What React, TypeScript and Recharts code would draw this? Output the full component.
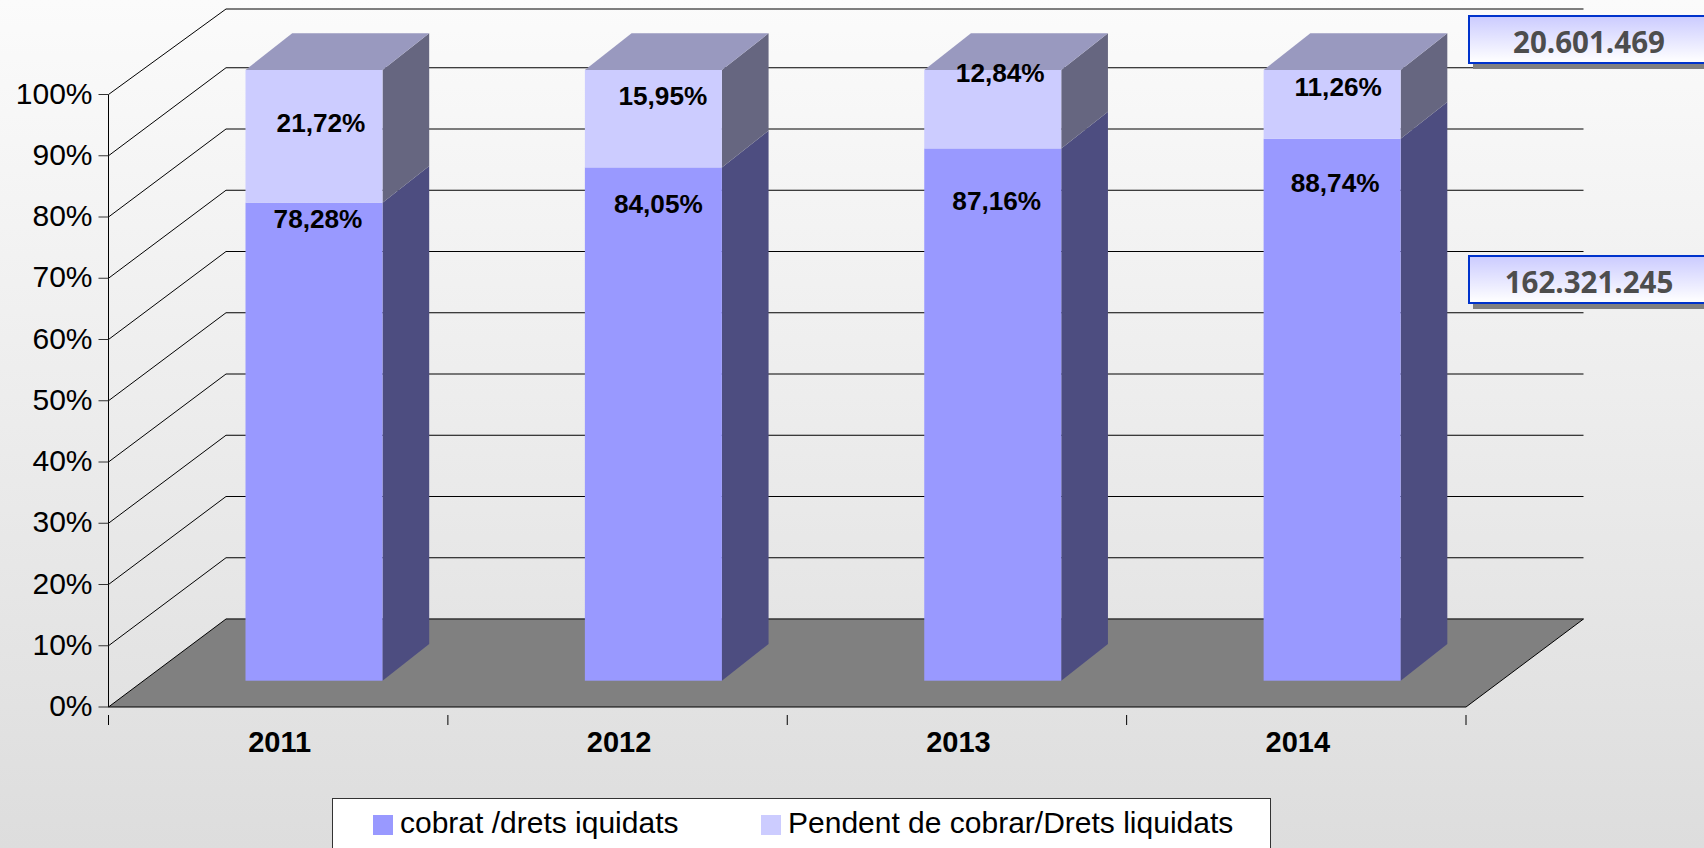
import React from "react";
import { BarChart, Bar, XAxis, YAxis, CartesianGrid, Legend, LabelList } from "recharts";

const categories = ["2011", "2012", "2013", "2014"];
const cobrat = [78.28, 84.05, 87.16, 88.74];
const pendent = [21.72, 15.95, 12.84, 11.26];
const yTicks = [0, 10, 20, 30, 40, 50, 60, 70, 80, 90, 100];
const seriesNames = ["cobrat /drets iquidats", "Pendent de cobrar/Drets liquidats"];
const calloutTexts = ["20.601.469", "162.321.245"];

const rows = categories.map((year, i) => ({ year, cobrat: cobrat[i], pendent: pendent[i] }));

const W = 1704;
const H = 848;
const MARGIN = { top: 94.5, right: 238, bottom: 81, left: 8.5 };
const Y_AXIS_W = 100;
const X_AXIS_H = 60;
const WALL_DX = 117.5;
const WALL_DY = 88;
const WALL_TOP = 9;
const BAR_DX = 36;
const SIDE_DX = 46.7;
const SIDE_DY = 36.7;
const FONT = "'Liberation Sans', Arial, sans-serif";

const barY = (y: number) => y - 24.5 - (y - MARGIN.top) * 0.00294;

const lowerNudge = [{ x: 4, y: 16 }, { x: 5, y: 37 }, { x: 4, y: 53 }, { x: 3, y: 44 }];
const upperNudge = [{ x: 7, y: 53 }, { x: 9.5, y: 25.5 }, { x: 7.5, y: 3 }, { x: 6, y: 17 }];

function makeBox(front: string, side: string, top?: string) {
  return function Box(props: any) {
    const { x, y, width, height } = props;
    const l = x + BAR_DX;
    const r = l + width;
    const t = barY(y);
    const b = barY(y + height);
    return (
      <g>
        <polygon points={`${r},${t} ${r + SIDE_DX},${t - SIDE_DY} ${r + SIDE_DX},${b - SIDE_DY} ${r},${b}`} fill={side} />
        {top && <polygon points={`${l},${t} ${l + SIDE_DX},${t - SIDE_DY} ${r + SIDE_DX},${t - SIDE_DY} ${r},${t}`} fill={top} />}
        <rect x={l} y={t} width={width} height={b - t} fill={front} />
      </g>
    );
  };
}

function makeLabel(nudge: { x: number; y: number }[]) {
  return function BoxLabel(props: any) {
    const { x, y, width, index, value } = props;
    return (
      <text
        x={x + BAR_DX + width / 2 + nudge[index].x}
        y={barY(y) + nudge[index].y}
        textAnchor="middle"
        dominantBaseline="central"
        fontFamily={FONT}
        fontWeight="bold"
        fontSize={26.2}
        fill="#000"
      >
        {`${Number(value).toFixed(2).replace(".", ",")}%`}
      </text>
    );
  };
}

function WallLine(props: any) {
  const { x1, x2, y1 } = props;
  const isFloor = Math.abs(y1 - (H - MARGIN.bottom - X_AXIS_H)) < 0.6;
  const bx1 = x1 + WALL_DX;
  const bx2 = x2 + WALL_DX;
  const by = Math.max(WALL_TOP, y1 - WALL_DY);
  return (
    <g>
      {isFloor && (
        <polygon points={`${x1},${y1} ${bx1},${by} ${bx2},${by} ${x2},${y1}`} fill="#808080" />
      )}
      <line x1={x1} y1={y1} x2={bx1} y2={by} stroke="#000" strokeWidth={1} />
      <line x1={bx1} y1={by} x2={bx2} y2={by} stroke={isFloor ? "#333" : "#000"} strokeWidth={isFloor ? 1.5 : 1} />
      {isFloor && <line x1={x2} y1={y1} x2={bx2} y2={by} stroke="#000" strokeWidth={1} />}
    </g>
  );
}

function YearTick(props: any) {
  const { x, y, payload, index, width, visibleTicksCount } = props;
  const half = width / visibleTicksCount / 2;
  return (
    <g>
      <line x1={x - half} y1={y} x2={x - half} y2={y + 10} stroke="#000" />
      {index === visibleTicksCount - 1 && <line x1={x + half} y1={y} x2={x + half} y2={y + 10} stroke="#000" />}
      <text x={x + 1.5} y={y + 27} textAnchor="middle" dominantBaseline="central" fontFamily={FONT} fontWeight="bold" fontSize={29} fill="#000">
        {payload.value}
      </text>
    </g>
  );
}

function PercentTick(props: any) {
  const { x, y, payload } = props;
  return (
    <text x={x} y={y - 1.5} textAnchor="end" dominantBaseline="central" fontFamily={FONT} fontSize={30} fill="#000">
      {`${payload.value}%`}
    </text>
  );
}

function LegendBox() {
  const lefts = [373, 761];
  return (
    <div style={{ position: "relative", width: 939, height: 50, boxSizing: "border-box", background: "#fff", border: "1.5px solid #333", borderBottom: "none" }}>
      {seriesNames.map((name, i) => (
        <React.Fragment key={name}>
          <span style={{ position: "absolute", left: lefts[i] - 333, top: 16, width: 20, height: 20, background: i === 0 ? "#9999ff" : "#ccccff" }} />
          <span style={{ position: "absolute", left: lefts[i] - 333 + 27, top: 7, fontFamily: FONT, fontSize: 30, lineHeight: "34px", color: "#000", whiteSpace: "pre" }}>{name}</span>
        </React.Fragment>
      ))}
    </div>
  );
}

const calloutTops = [15, 255];

export default function App() {
  return (
    <div style={{ position: "absolute", left: 0, top: 0, width: W, height: H, overflow: "hidden", background: "linear-gradient(#fbfbfb, #dddddd)" }}>
      <BarChart width={W} height={H} data={rows} margin={MARGIN} barSize={137}>
        <CartesianGrid horizontal={WallLine as any} vertical={false} />
        <XAxis dataKey="year" height={X_AXIS_H} axisLine={{ stroke: "#000" }} tickLine={false} tick={YearTick as any} interval={0} />
        <YAxis
          width={Y_AXIS_W}
          domain={[0, 100]}
          ticks={yTicks}
          interval={0}
          axisLine={{ stroke: "#000" }}
          tickLine={{ stroke: "#333" }}
          tickSize={10}
          tickMargin={6}
          tick={PercentTick as any}
        />
        <Legend layout="horizontal" verticalAlign="middle" content={LegendBox as any} wrapperStyle={{ left: 332, top: 798, width: 939, height: 50 }} />
        <Bar dataKey="cobrat" stackId="a" isAnimationActive={false} shape={makeBox("#9999ff", "#4d4d80") as any}>
          <LabelList dataKey="cobrat" content={makeLabel(lowerNudge) as any} />
        </Bar>
        <Bar dataKey="pendent" stackId="a" isAnimationActive={false} shape={makeBox("#ccccff", "#666680", "#9999bf") as any}>
          <LabelList dataKey="pendent" content={makeLabel(upperNudge) as any} />
        </Bar>
      </BarChart>
      {calloutTexts.map((text, i) => (
        <div
          key={text}
          style={{
            position: "absolute",
            left: 1468,
            top: calloutTops[i],
            width: 242,
            height: 49,
            boxSizing: "border-box",
            border: "2px solid #0033cc",
            background: "linear-gradient(#ccccff, #ffffff)",
            boxShadow: "5px 5px 0 #808080",
            textAlign: "center",
            fontFamily: "'Open Sans', sans-serif",
            fontWeight: 700,
            fontSize: 29.5,
            lineHeight: "50px",
            color: "#4d4d4d",
          }}
        >
          {text}
        </div>
      ))}
    </div>
  );
}
